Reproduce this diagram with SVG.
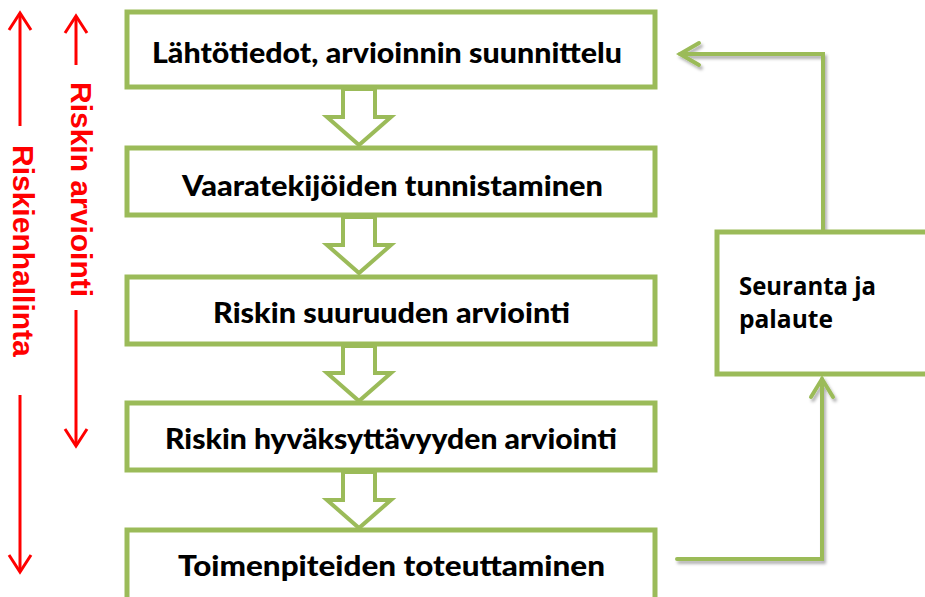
<svg xmlns="http://www.w3.org/2000/svg" width="925" height="597" viewBox="0 0 925 597">
<defs>
<style>
.box{fill:#fff;stroke:#9BBB59;stroke-width:5}
.blk{fill:#fff;stroke:#9BBB59;stroke-width:4;stroke-linejoin:miter}
.t{font-family:Lato,"Open Sans","DejaVu Sans",sans-serif;font-weight:900;font-size:29px;fill:#000}
.t2{font-family:"Open Sans","Liberation Sans",sans-serif;font-weight:700;font-size:25px;fill:#000}
.conn{fill:none;stroke:#9BBB59;stroke-width:4;stroke-linecap:round;stroke-linejoin:miter}
.red{fill:none;stroke:#FF0000;stroke-width:3}
.rt{font-family:"Liberation Sans",Arial,sans-serif;font-weight:700;font-size:30px;fill:#FF0000}
</style>
<filter id="sh" x="-20%" y="-20%" width="140%" height="140%">
<feDropShadow dx="2" dy="3" stdDeviation="1.8" flood-color="#000" flood-opacity="0.3"/>
</filter>
</defs>
<rect width="925" height="597" fill="#fff"/>

<g id="side-labels">
<line class="red" x1="20" y1="13" x2="20" y2="126"/>
<polyline class="red" points="9,30 20,13 31,30"/>
<text class="rt" transform="translate(13,145) rotate(90)">Riskienhallinta</text>
<line class="red" x1="20" y1="395" x2="20" y2="572"/>
<polyline class="red" points="9,555 20,572 31,555"/>
<line class="red" x1="76" y1="16" x2="76" y2="65"/>
<polyline class="red" points="65,33 76,16 87,33"/>
<text class="rt" transform="translate(71,82) rotate(90)">Riskin arviointi</text>
<line class="red" x1="76" y1="310" x2="76" y2="446"/>
<polyline class="red" points="65,429 76,446 87,429"/>
</g>

<g id="connectors">
<polygon class="blk" points="343,89 375,89 375,117 391,117 359,145 327,117 343,117"/>
<polygon class="blk" points="343,217 375,217 375,245 391,245 359,273 327,245 343,245"/>
<polygon class="blk" points="343,346 375,346 375,373 391,373 359,401 327,373 343,373"/>
<polygon class="blk" points="343,472 375,472 375,500 391,500 359,528 327,500 343,500"/>
<g filter="url(#sh)">
<polyline class="conn" points="677,559 822,559 822,379"/>
<polyline class="conn" points="811,397 822,379 833,397"/>
<polyline class="conn" points="823,230 823,54 680,54"/>
<polyline class="conn" points="699,43 680,54 699,65"/>
</g>
</g>

<g id="n1">
<rect class="box" x="127" y="12" width="528" height="75"/>
<text class="t" x="152" y="63" textLength="470" lengthAdjust="spacingAndGlyphs">Lähtötiedot, arvioinnin suunnittelu</text>
</g>
<g id="n2">
<rect class="box" x="127" y="148" width="528" height="67"/>
<text class="t" x="182" y="196" textLength="421" lengthAdjust="spacingAndGlyphs">Vaaratekijöiden tunnistaminen</text>
</g>
<g id="n3">
<rect class="box" x="127" y="277" width="528" height="67"/>
<text class="t" x="213" y="323" textLength="357" lengthAdjust="spacingAndGlyphs">Riskin suuruuden arviointi</text>
</g>
<g id="n4">
<rect class="box" x="127" y="403" width="528" height="67"/>
<text class="t" x="165" y="449" textLength="452" lengthAdjust="spacingAndGlyphs">Riskin hyväksyttävyyden arviointi</text>
</g>
<g id="n5">
<rect class="box" x="127" y="530" width="528" height="72"/>
<text class="t" x="178" y="576" textLength="427" lengthAdjust="spacingAndGlyphs">Toimenpiteiden toteuttaminen</text>
</g>
<g id="n6">
<rect class="box" x="717" y="232" width="220" height="142"/>
<text class="t2" x="739" y="295" textLength="137" lengthAdjust="spacingAndGlyphs">Seuranta ja</text>
<text class="t2" x="739" y="328" textLength="94" lengthAdjust="spacingAndGlyphs">palaute</text>
</g>
</svg>
